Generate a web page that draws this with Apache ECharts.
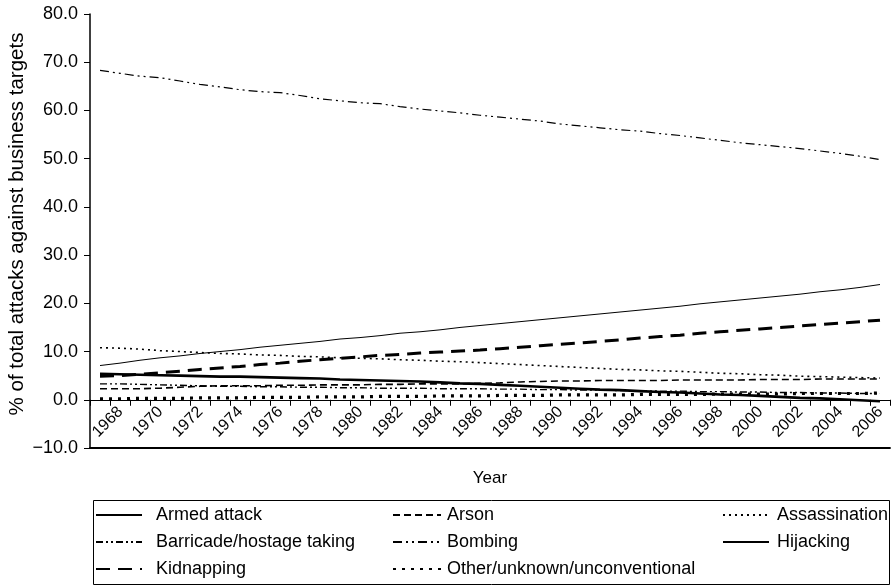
<!DOCTYPE html>
<html>
<head>
<meta charset="utf-8">
<script src="https://cdn.jsdelivr.net/npm/echarts@6/dist/echarts.min.js"></script>
<style>
  html, body { margin: 0; padding: 0; background: #fff; }
  #chart { width: 896px; height: 585px; }
</style>
</head>
<body>
<div id="chart"></div>
<script>
// Share of attacks against business targets, by attack type, 1968-2007
const years = [
  '1968','1969','1970','1971','1972','1973','1974','1975','1976','1977',
  '1978','1979','1980','1981','1982','1983','1984','1985','1986','1987',
  '1988','1989','1990','1991','1992','1993','1994','1995','1996','1997',
  '1998','1999','2000','2001','2002','2003','2004','2005','2006','2007'
];

const armedAttack = [
  7.1, 7.6, 8.2, 8.7, 9.1, 9.6, 10.0, 10.4, 10.9, 11.3,
  11.7, 12.1, 12.6, 12.9, 13.3, 13.8, 14.1, 14.5, 15.0, 15.4,
  15.8, 16.2, 16.6, 17.0, 17.4, 17.8, 18.2, 18.6, 19.0, 19.4,
  19.9, 20.3, 20.7, 21.1, 21.5, 21.9, 22.4, 22.8, 23.3, 23.9
];
const arson = [
  2.3, 2.3, 2.3, 2.4, 2.6, 2.8, 2.9, 2.9, 2.9, 3.0,
  3.0, 3.1, 3.1, 3.1, 3.2, 3.2, 3.3, 3.3, 3.3, 3.4,
  3.5, 3.7, 3.8, 3.9, 3.9, 4.0, 4.0, 4.0, 4.0, 4.1,
  4.1, 4.1, 4.1, 4.2, 4.2, 4.2, 4.3, 4.3, 4.3, 4.3
];
const assassination = [
  10.8, 10.7, 10.5, 10.2, 10.0, 9.8, 9.6, 9.5, 9.3, 9.2,
  9.0, 8.9, 8.7, 8.6, 8.5, 8.3, 8.2, 8.0, 7.9, 7.7,
  7.5, 7.3, 7.1, 6.9, 6.7, 6.5, 6.3, 6.2, 6.0, 5.9,
  5.7, 5.5, 5.4, 5.2, 5.1, 4.9, 4.8, 4.7, 4.6, 4.5
];
const barricade = [
  3.3, 3.3, 3.2, 3.1, 3.0, 2.9, 2.8, 2.8, 2.7, 2.7,
  2.6, 2.6, 2.5, 2.5, 2.4, 2.4, 2.4, 2.3, 2.3, 2.3,
  2.2, 2.2, 2.1, 2.1, 2.0, 2.0, 1.9, 1.9, 1.8, 1.8,
  1.7, 1.7, 1.6, 1.6, 1.5, 1.5, 1.4, 1.4, 1.3, 1.3
];
const bombing = [
  68.3, 67.7, 67.1, 66.8, 66.1, 65.4, 64.9, 64.3, 63.9, 63.7,
  63.1, 62.4, 62.0, 61.6, 61.4, 60.8, 60.3, 59.9, 59.5, 59.0,
  58.6, 58.2, 57.8, 57.2, 56.8, 56.4, 56.0, 55.7, 55.2, 54.8,
  54.3, 53.8, 53.3, 52.9, 52.5, 52.1, 51.6, 51.1, 50.5, 49.8
];
const hijacking = [
  5.4, 5.3, 5.2, 5.1, 5.0, 4.9, 4.8, 4.8, 4.7, 4.6,
  4.5, 4.4, 4.2, 4.1, 4.0, 3.9, 3.8, 3.6, 3.4, 3.3,
  3.1, 2.9, 2.7, 2.5, 2.3, 2.1, 2.0, 1.8, 1.6, 1.5,
  1.3, 1.1, 1.0, 0.8, 0.6, 0.4, 0.3, 0.1, -0.1, -0.3
];
const kidnapping = [
  4.9, 5.0, 5.3, 5.6, 5.9, 6.3, 6.6, 6.9, 7.3, 7.6,
  8.0, 8.3, 8.6, 8.9, 9.2, 9.4, 9.7, 9.9, 10.1, 10.3,
  10.6, 10.9, 11.2, 11.5, 11.8, 12.1, 12.4, 12.8, 13.1, 13.4,
  13.8, 14.1, 14.4, 14.7, 15.0, 15.3, 15.6, 15.9, 16.2, 16.5
];
const otherUnknown = [
  0.2, 0.2, 0.3, 0.3, 0.3, 0.4, 0.4, 0.4, 0.5, 0.5,
  0.5, 0.6, 0.6, 0.6, 0.7, 0.7, 0.7, 0.8, 0.8, 0.8,
  0.9, 0.9, 0.9, 1.0, 1.0, 1.0, 1.0, 1.1, 1.1, 1.1,
  1.1, 1.2, 1.2, 1.2, 1.2, 1.3, 1.3, 1.3, 1.3, 1.4
];

const yTicks = { min: -10, max: 80, step: 10 };

const FONT = '"Liberation Sans", Arial, Helvetica, sans-serif';
const INK = '#000';

// plot area geometry
const GRID = { left: 90, right: 6, top: 14, bottom: 137 };
const plotHeight = 585 - GRID.top - GRID.bottom;
// the category axis sits on the zero line, lifted from the bottom edge
const zeroLift = plotHeight * (0 - yTicks.min) / (yTicks.max - yTicks.min);

function lineSeries(name, data, width, dash) {
  return {
    name: name,
    type: 'line',
    data: data,
    symbol: 'none',
    showSymbol: false,
    smooth: false,
    animation: false,
    lineStyle: { color: INK, width: width, type: dash, cap: 'butt' },
    itemStyle: { color: INK }
  };
}

const series = [
  lineSeries('Armed attack', armedAttack, 1, 'solid'),
  lineSeries('Arson', arson, 1.6, [7, 4]),
  lineSeries('Assassination', assassination, 1.6, [2, 4]),
  lineSeries('Barricade/hostage taking', barricade, 1.4, [7, 3, 2, 3, 2, 3]),
  lineSeries('Bombing', bombing, 1.2, [9, 4, 2, 4, 2, 4]),
  lineSeries('Hijacking', hijacking, 2.6, 'solid'),
  lineSeries('Kidnapping', kidnapping, 3, [14, 8]),
  lineSeries('Other/unknown/unconventional', otherUnknown, 3.2, [3, 6])
];

function legendColumn(left, iconWidth, names, textGap) {
  return {
    orient: 'vertical',
    left: left,
    top: 505,
    padding: 0,
    data: names,
    itemWidth: iconWidth,
    itemHeight: 14,
    itemGap: 7,
    selectedMode: false,
    itemStyle: { opacity: 0 },
    textStyle: { fontFamily: FONT, fontSize: 18, color: INK, padding: [0, 0, 0, textGap], lineHeight: 20 }
  };
}

const chart = echarts.init(document.getElementById('chart'), null, { renderer: 'canvas' });

chart.setOption({
  animation: false,
  backgroundColor: '#fff',
  grid: {
    left: GRID.left, right: GRID.right, top: GRID.top, bottom: GRID.bottom,
    containLabel: false, outerBoundsMode: 'none'
  },
  xAxis: [
    {
      type: 'category',
      data: years,
      boundaryGap: true,
      position: 'bottom',
      offset: -zeroLift,
      name: 'Year',
      nameLocation: 'middle',
      nameGap: 70,
      nameMoveOverlap: false,
      nameTextStyle: { fontFamily: FONT, fontSize: 17, color: INK },
      axisLine: { onZero: false, lineStyle: { color: INK, width: 1 } },
      axisTick: { show: true, interval: 0, length: 6, lineStyle: { color: INK } },
      axisLabel: {
        interval: 1, rotate: 45, margin: 30,
        fontFamily: FONT, fontSize: 16, color: INK,
        align: 'center', verticalAlign: 'middle',
        padding: [8, 0, 0, 22]
      },
      splitLine: { show: false }
    },
    {
      type: 'category',
      data: years,
      position: 'bottom',
      axisLine: { onZero: false, lineStyle: { color: INK, width: 1.8 } },
      axisTick: { show: false },
      axisLabel: { show: false },
      splitLine: { show: false }
    }
  ],
  yAxis: {
    type: 'value',
    min: yTicks.min,
    max: yTicks.max,
    interval: yTicks.step,
    name: '% of total attacks against business targets',
    nameLocation: 'middle',
    nameGap: 62,
    nameMoveOverlap: false,
    nameTextStyle: { fontFamily: FONT, fontSize: 20.5, color: INK, padding: [0, 0, 0, 14] },
    axisLine: { show: true, lineStyle: { color: INK, width: 1.5 } },
    axisTick: { show: true, length: 6, lineStyle: { color: INK } },
    axisLabel: {
      margin: 12, fontFamily: FONT, fontSize: 18, color: INK,
      formatter: v => v.toFixed(1).replace('-', '\u2212')
    },
    splitLine: { show: false }
  },
  legend: [
    legendColumn(95, 46, ['Armed attack', 'Barricade/hostage taking', 'Kidnapping'], 9),
    legendColumn(392, 48, ['Arson', 'Bombing', 'Other/unknown/unconventional'], 1),
    legendColumn(722, 46, ['Assassination', 'Hijacking'], 3)
  ],
  graphic: [
    {
      type: 'rect',
      shape: { x: 93.5, y: 500.5, width: 796, height: 84 },
      style: { fill: null, stroke: INK, lineWidth: 1 },
      silent: true
    }
  ],
  series: series
});
</script>
</body>
</html>
